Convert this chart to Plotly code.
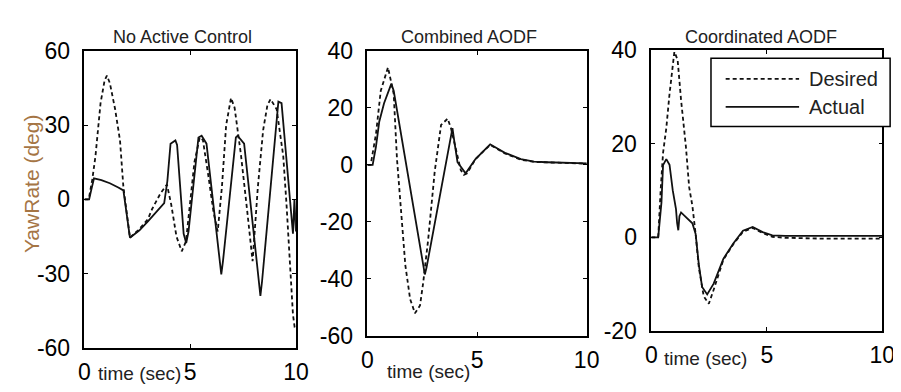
import plotly.graph_objects as go

# ---------------- data ----------------
p1_des_t = [0, 0.2, 0.37, 0.52, 0.76, 0.95, 1.06, 1.2, 1.45, 1.68, 1.84, 2.15, 2.6, 3.0, 3.2, 3.6, 3.9,
            4.1, 4.35, 4.6, 4.8, 5.0, 5.2, 5.45, 5.6, 5.85, 6.1, 6.3, 6.5, 6.7, 6.93, 7.1, 7.4, 7.7,
            7.95, 8.2, 8.45, 8.65, 8.8, 9.09, 9.4, 9.55, 9.71, 9.86, 9.94, 10]
p1_des_y = [0, 0, 8, 17.5, 38.9, 48, 50, 47, 36.4, 23.8, 5, -15.5, -12, -8, -3.9, 2.5, 6,
            -2, -15, -21, -17, 0, 15, 25, 24, 10, -5, -13, 5, 30, 41, 37, 18, -5,
            -25, 5, 28, 38, 40.5, 36.4, 17.5, -1.4, -26.5, -46.6, -51.7, -52]
p1_act_t = [0, 0.22, 0.3, 0.45, 0.8, 1.2, 1.6, 1.84, 2.15, 2.6, 3.0, 3.4, 3.77, 3.92, 4.07, 4.3, 4.38,
            4.69, 4.81, 4.92, 5.39, 5.54, 5.77, 6.47, 6.55, 7.16, 7.24, 7.55, 8.32, 8.4, 9.17, 9.32,
            9.86, 9.93, 10]
p1_act_y = [0, 0, 3, 8.5, 7.8, 6.5, 4.8, 3.6, -15.5, -12.5, -8.9, -5, -1.5, 7.4, 22.5, 23.8, 22,
            -13.9, -17.7, -13, 25, 25.7, 22.5, -30.3, -25, 25, 25.7, 22.5, -39, -33, 39.5, 38.9,
            -13.9, 0, -13]

p2_des_t = [0, 0.15, 0.39, 0.61, 0.94, 1.2, 1.35, 1.5, 1.73, 1.95, 2.17, 2.4, 2.54, 2.77, 3.07, 3.36,
            3.66, 3.81, 4.03, 4.26, 4.4, 4.55, 4.93, 5.6, 6.27, 7.0, 7.6, 8.2, 10]
p2_des_y = [0, 0, 10.7, 26.0, 34.2, 24.9, 2, -13.3, -35.2, -47.2, -52.1, -49.4, -41.7, -26.4, -2.4, 14,
            16.2, 12.9, 5.2, -1.9, -3.5, -3.0, 2, 7.0, 4.0, 1.8, 1.0, 0.8, 0.4]
p2_act_t = [0, 0.24, 0.39, 0.54, 0.76, 1.09, 1.2, 2.62, 2.7, 3.88, 3.96, 4.11, 4.48, 4.93, 5.6, 6.27,
            7.0, 7.6, 8.2, 10]
p2_act_y = [0, 0, 6.3, 15.1, 21.6, 28.4, 26, -38.5, -36, 12.9, 8.5, 0.9, -3.0, 2, 7.2, 4.2,
            2, 1.1, 0.9, 0.5]

p3_des_t = [0, 0.3, 0.41, 0.51, 0.65, 0.79, 1.0, 1.14, 1.29, 1.5, 1.64, 1.78, 1.92, 2.06, 2.27, 2.49,
            2.7, 3.12, 3.55, 3.97, 4.39, 4.82, 5.24, 5.8, 7.5, 10]
p3_des_y = [0, 0, 10.4, 18, 23.3, 30.6, 39.6, 37.9, 29.3, 19.3, 10.7, 6.7, 0.7, -6.5, -12.6, -14.2,
            -11.2, -4.8, -1.5, 1.2, 2.0, 0.9, 0.1, -0.1, -0.3, -0.3]
p3_act_t = [0, 0.3, 0.44, 0.51, 0.65, 0.79, 0.93, 1.07, 1.12, 1.17, 1.22, 1.29, 1.5, 1.78, 1.92, 2.06,
            2.2, 2.42, 2.7, 3.12, 3.55, 3.97, 4.39, 4.82, 5.24, 5.8, 10]
p3_act_y = [0, 0, 7.4, 15.4, 16.7, 15.5, 10, 6, 3, 1.5, 4.5, 5.3, 4.3, 3.0, 0.7, -5.9,
            -10.6, -12.2, -9.9, -4.6, -1.3, 1.4, 2.2, 1.1, 0.4, 0.3, 0.3]

titles = ["No Active Control", "Combined AODF", "Coordinated AODF"]
y_ranges = [[-60, 60], [-60, 40], [-20, 40]]
y_ticks = [[-60, -30, 0, 30, 60], [-60, -40, -20, 0, 20, 40], [-20, 0, 20, 40]]
x_ticks = [0, 5, 10]
legend_names = ["Desired", "Actual"]
y_label = "YawRate (deg)"
x_label = "time (sec)"

# ---------------- layout geometry ----------------
W, H = 901, 392
def px_x(v):
    return v / W
def px_y(v):
    return 1 - v / H

boxes = [(72, 288, 32, 350), (361, 585, 32, 337), (651, 887, 31, 332)]
title_x = [172, 465, 763]
xlabel_pos = [(128, 378), (423, 375), (706, 362)]

series = [
    (p1_des_t, p1_des_y, p1_act_t, p1_act_y),
    (p2_des_t, p2_des_y, p2_act_t, p2_act_y),
    (p3_des_t, p3_des_y, p3_act_t, p3_act_y),
]

FONT = "Liberation Sans, Arial, sans-serif"
fig = go.Figure()
layout = dict(
    width=W, height=H,
    margin=dict(l=0, r=0, t=0, b=0),
    paper_bgcolor="white", plot_bgcolor="white",
    showlegend=False,
    font=dict(family=FONT, color="black"),
    annotations=[], shapes=[],
)

for i, (dt, dy, at, ay) in enumerate(series):
    n = "" if i == 0 else str(i + 1)
    xa, ya = "x" + n, "y" + n
    fig.add_trace(go.Scatter(x=dt, y=dy, mode="lines", name=legend_names[0], xaxis=xa, yaxis=ya,
                             line=dict(color="#111", width=1.8, dash="4px,3px")))
    fig.add_trace(go.Scatter(x=at, y=ay, mode="lines", name=legend_names[1], xaxis=xa, yaxis=ya,
                             line=dict(color="#111", width=1.8)))
    x0, x1, y0, y1 = boxes[i]
    layout["xaxis" + n] = dict(
        domain=[px_x(x0), px_x(x1)], anchor=ya, range=[0, 10],
        tickvals=x_ticks, ticktext=[str(v) for v in x_ticks],
        ticks="inside", ticklen=4, tickcolor="black", showline=True, linecolor="black",
        linewidth=1.5, mirror="ticks", showgrid=False, zeroline=False,
        tickfont=dict(size=23, family=FONT), ticklabelstandoff=3,
    )
    layout["yaxis" + n] = dict(
        domain=[px_y(y1), px_y(y0)], anchor=xa, range=y_ranges[i],
        tickvals=y_ticks[i], ticktext=[str(v) for v in y_ticks[i]],
        ticks="inside", ticklen=4, tickcolor="black", showline=True, linecolor="black",
        linewidth=1.5, mirror="ticks", showgrid=False, zeroline=False,
        tickfont=dict(size=23, family=FONT), ticklabelstandoff=8,
    )
    layout["annotations"].append(dict(
        text=titles[i], x=px_x(title_x[i]), y=px_y(17), xref="paper", yref="paper",
        showarrow=False, font=dict(size=18, family=FONT, color="#222"),
        xanchor="center", yanchor="middle"))
    lx, ly = xlabel_pos[i]
    layout["annotations"].append(dict(
        text=x_label, x=px_x(lx), y=px_y(ly), xref="paper", yref="paper",
        showarrow=False, font=dict(size=19, family=FONT, color="#222"),
        xanchor="center", yanchor="middle"))

layout["annotations"].append(dict(
    text=y_label, x=px_x(18), y=px_y(174), xref="paper", yref="paper", textangle=-90,
    showarrow=False, font=dict(size=21, family=FONT, color="#A57545"),
    xanchor="center", yanchor="middle"))

# legend box (panel 3)
layout["shapes"].append(dict(type="rect", xref="paper", yref="paper",
                             x0=px_x(712), x1=px_x(895), y0=px_y(113), y1=px_y(40),
                             line=dict(color="black", width=1.5), fillcolor="white", layer="above"))
for k, (yy, dash) in enumerate([(62, "4px,3px"), (92, "solid")]):
    layout["shapes"].append(dict(type="line", xref="paper", yref="paper",
                                 x0=px_x(727), x1=px_x(802), y0=px_y(yy), y1=px_y(yy),
                                 line=dict(color="#111", width=1.8, dash=dash), layer="above"))
    layout["annotations"].append(dict(
        text=legend_names[k], x=px_x(810), y=px_y(yy), xref="paper", yref="paper",
        showarrow=False, font=dict(size=20, family=FONT, color="#222"),
        xanchor="left", yanchor="middle"))

fig.update_layout(**layout)
fig.write_html("out.html")
